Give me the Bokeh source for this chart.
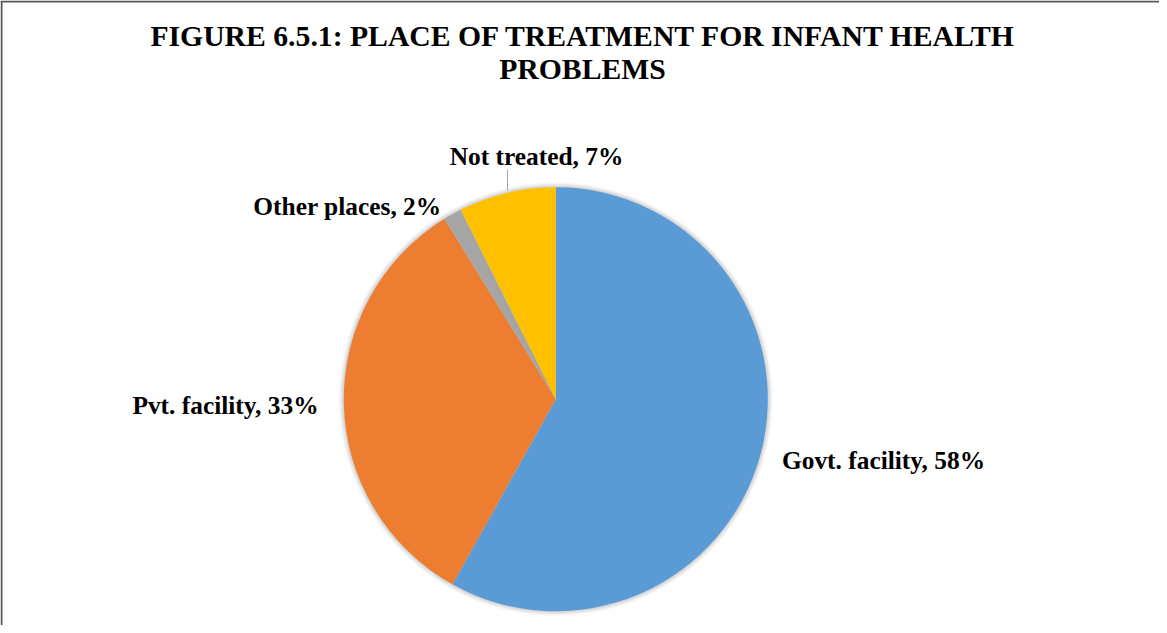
import numpy as np
from bokeh.plotting import figure
from bokeh.models import Range1d, ColumnDataSource
from bokeh.core.properties import value
from bokeh.embed import file_html
from bokeh.resources import INLINE

# ---- data ----
categories = ["Govt. facility", "Pvt. facility", "Other places", "Not treated"]
shares = [58.1, 33.1, 1.4, 7.4]
percent_labels = ["58%", "33%", "2%", "7%"]
colors = ["#5B9BD5", "#ED7D31", "#A5A5A5", "#FFC000"]
title_lines = ["FIGURE 6.5.1: PLACE OF TREATMENT FOR INFANT HEALTH", "PROBLEMS"]

# ---- layout (pixel space of the figure, y up) ----
W, H = 1159, 625
CX, CY, R = 555.3, 226.3, 212.0
label_x = [883, 225, 347, 536]
label_y = [165.5, 220.5, 420.0, 469.5]
FONT = value("Liberation Serif")

p = figure(width=W, height=H, x_range=Range1d(0, W), y_range=Range1d(0, H),
           output_backend="svg", toolbar_location=None, min_border=0,
           x_axis_location=None, y_axis_location=None, title_location=None,
           outline_line_color=None)
p.grid.visible = False
p.background_fill_color = "white"
p.border_fill_color = "white"

# border (top and left visible in the reference)
p.line(x=[1, 1], y=[0, H - 1], line_color="#595959", line_width=2)
p.line(x=[0, W], y=[H - 1, H - 1], line_color="#595959", line_width=2)

# soft shadow
for k, a in [(5, 0.025), (4, 0.03), (3, 0.035), (2, 0.04), (1, 0.05)]:
    p.circle(x=[CX], y=[CY], radius=R + k, fill_color="black", fill_alpha=a,
             line_color=None)

total = float(sum(shares))
fr = np.array(shares) / total
cum_end = np.cumsum(fr)
cum_start = cum_end - fr
src = ColumnDataSource(dict(
    x=[CX] * len(shares), y=[CY] * len(shares),
    start=(np.pi / 2 - 2 * np.pi * cum_start).tolist(),
    end=(np.pi / 2 - 2 * np.pi * cum_end).tolist(),
    color=colors, cat=categories,
))
p.wedge(x="x", y="y", radius=R, start_angle="start", end_angle="end",
        direction="clock", fill_color="color", line_color=None, source=src)

# leader line for "Not treated"
p.line(x=[507, 507], y=[456, 435], line_color="#A6A6A6", line_width=1)

labels = [f"{c}, {l}" for c, l in zip(categories, percent_labels)]
p.text(x=label_x, y=label_y, text=labels, text_font=FONT, text_font_style="bold",
       text_font_size="25.4px", text_align="center", text_baseline="alphabetic",
       text_color="black")

p.text(x=[583, 582], y=[590, 557], text=title_lines, text_font=FONT,
       text_font_style="bold", text_font_size="29.7px", text_align="center",
       text_baseline="alphabetic", text_color="black")

open("out.html", "w").write(file_html(p, INLINE))
